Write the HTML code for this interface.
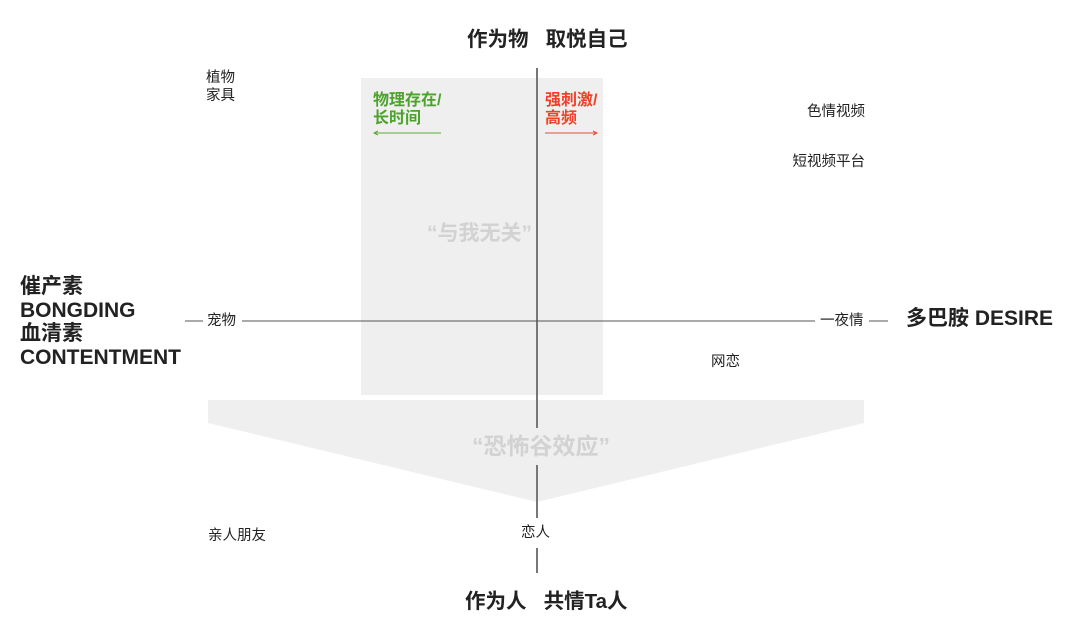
<!DOCTYPE html>
<html><head><meta charset="utf-8"><style>
body{margin:0;background:#fff;width:1080px;height:639px;overflow:hidden;position:relative;font-family:"Liberation Sans","Noto Sans CJK SC",sans-serif;color:#222}
.t{position:absolute;white-space:nowrap;line-height:1}
.s{font-size:14.5px;line-height:18px}
.b{font-weight:bold}
.r{text-align:right}
</style></head><body>
<svg width="1080" height="639" style="position:absolute;left:0;top:0">
<rect x="361" y="78" width="242" height="317" fill="#efefef"/>
<polygon points="208,400 864,400 864,423 537,502 208,423" fill="#efefef"/>
<line x1="537" y1="68" x2="537" y2="428" stroke="#777" stroke-width="2"/>
<line x1="537" y1="465" x2="537" y2="518" stroke="#777" stroke-width="2"/>
<line x1="537" y1="548" x2="537" y2="573" stroke="#777" stroke-width="2"/>
<line x1="242" y1="321" x2="815" y2="321" stroke="#555" stroke-width="1"/>
<line x1="185" y1="321" x2="203" y2="321" stroke="#555" stroke-width="1"/>
<line x1="869" y1="321" x2="888" y2="321" stroke="#555" stroke-width="1"/>
<line x1="374" y1="133" x2="441" y2="133" stroke="#5aa83a" stroke-width="1"/>
<polyline points="378,131 374,133 378,135" fill="none" stroke="#5aa83a" stroke-width="1"/>
<line x1="545" y1="133" x2="597" y2="133" stroke="#e84c3d" stroke-width="1"/>
<polyline points="593,131 597,133 593,135" fill="none" stroke="#e84c3d" stroke-width="1"/>
</svg>
<div class="t b" style="left:467px;top:30px;font-size:20.5px">作为物&nbsp;&nbsp;&nbsp;取悦自己</div>
<div class="t b" style="left:465px;top:592px;font-size:20.5px">作为人&nbsp;&nbsp;&nbsp;共情Ta人</div>
<div class="t s" style="left:206px;top:69px">植物<br>家具</div>
<div class="t s r" style="right:215px;top:103px">色情视频</div>
<div class="t s r" style="right:215px;top:153px">短视频平台</div>
<div class="t b" style="left:373px;top:92px;color:#4ca22a;font-size:16px;line-height:18px">物理存在/<br>长时间</div>
<div class="t b" style="left:545px;top:92px;color:#f0402a;font-size:16px;line-height:18px">强刺激/<br>高频</div>
<div class="t b" style="left:427px;top:223px;font-size:21px;color:#d2d2d2">“与我无关”</div>
<div class="t b" style="left:472px;top:435px;font-size:23px;color:#d2d2d2">“恐怖谷效应”</div>
<div class="t b" style="left:20px;top:275px;font-size:21px;line-height:23.5px">催产素<br>BONGDING<br>血清素<br>CONTENTMENT</div>
<div class="t s" style="left:207px;top:312px">宠物</div>
<div class="t s" style="left:820px;top:312px">一夜情</div>
<div class="t b" style="left:906px;top:308px;font-size:21px">多巴胺 DESIRE</div>
<div class="t s" style="left:711px;top:353px">网恋</div>
<div class="t s" style="left:208px;top:527px">亲人朋友</div>
<div class="t s" style="left:521px;top:524px">恋人</div>
</body></html>
